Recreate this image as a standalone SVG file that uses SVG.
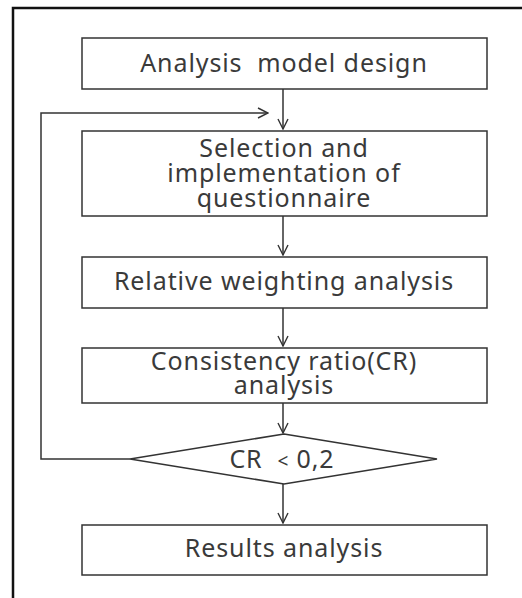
<svg xmlns="http://www.w3.org/2000/svg" width="522" height="598" viewBox="0 0 522 598">
<defs>
<marker id="arr" viewBox="0 0 12 12" refX="11" refY="6" markerWidth="12" markerHeight="12" markerUnits="userSpaceOnUse" orient="auto">
<path d="M1,1 L11,6 L1,11" fill="none" stroke="#333" stroke-width="1.4"/>
</marker>
<style>
.box{fill:#fff;stroke:#333;stroke-width:1.5}
.t{font-family:"Noto Sans","Open Sans",sans-serif;font-size:25px;letter-spacing:0.9px;fill:#3a3a3a;text-anchor:middle}
.c{fill:none;stroke:#333;stroke-width:1.5;marker-end:url(#arr)}
</style>
</defs>
<rect x="0" y="0" width="522" height="598" fill="#fff"/>
<path d="M13,600 L13,8 L522,8" fill="none" stroke="#111" stroke-width="2.5"/>
<g id="n1"><rect class="box" x="82" y="38" width="405" height="51"/><text class="t" x="284" y="72">Analysis&#160; model design</text></g>
<g id="n2"><rect class="box" x="82" y="131" width="405" height="85"/><text class="t" x="284" y="157">Selection and<tspan x="284" dy="25">implementation of</tspan><tspan x="284" dy="25">questionnaire</tspan></text></g>
<g id="n3"><rect class="box" x="82" y="257" width="405" height="51"/><text class="t" x="284" y="290">Relative weighting analysis</text></g>
<g id="n4"><rect class="box" x="82" y="348" width="405" height="55"/><text class="t" x="284" y="370">Consistency ratio(CR)<tspan x="284" dy="24">analysis</tspan></text></g>
<g id="n5"><polygon class="box" points="284,434 437,459 284,484 130,459"/><text class="t" x="282" y="468">CR&#160; <tspan font-size="19">&lt;</tspan> 0,2</text></g>
<g id="n6"><rect class="box" x="82" y="525" width="405" height="50"/><text class="t" x="284" y="557">Results analysis</text></g>
<g id="connectors">
<line class="c" x1="283" y1="89" x2="283" y2="129"/>
<line class="c" x1="283" y1="216" x2="283" y2="255"/>
<line class="c" x1="283" y1="308" x2="283" y2="346"/>
<line class="c" x1="283" y1="403" x2="283" y2="433"/>
<line class="c" x1="283" y1="484" x2="283" y2="523"/>
<polyline class="c" points="130,459 41,459 41,113 268,113"/>
</g>
</svg>
